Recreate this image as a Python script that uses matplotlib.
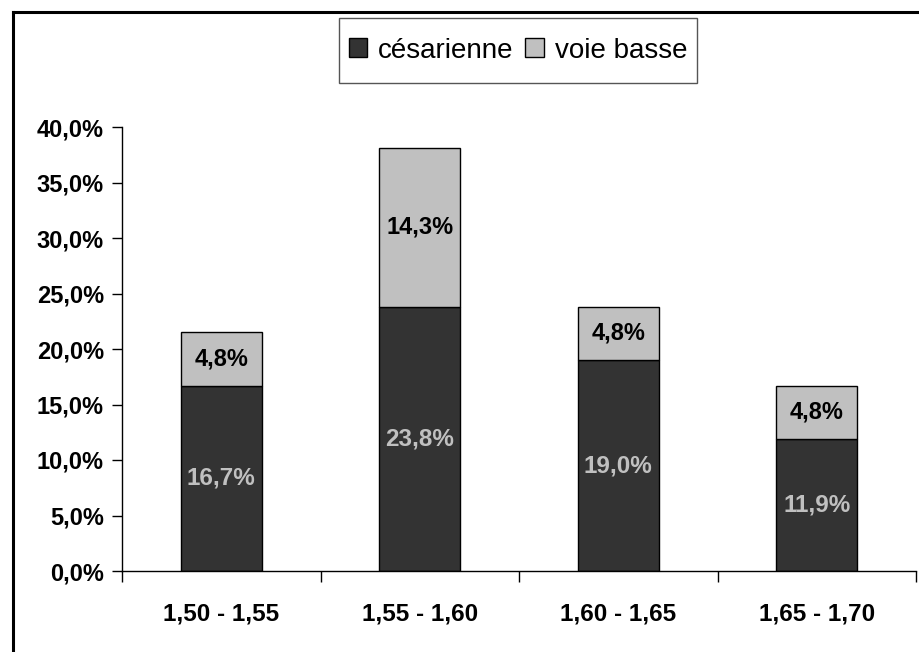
import matplotlib
matplotlib.use("Agg")
import matplotlib.pyplot as plt
from matplotlib.patches import Patch, Rectangle
from matplotlib.lines import Line2D
import numpy as np

categories = ["1,50 - 1,55", "1,55 - 1,60", "1,60 - 1,65", "1,65 - 1,70"]
cesarienne = [16.7, 23.8, 19.0, 11.9]
voie_basse = [4.8, 14.3, 4.8, 4.8]
yticks = [0, 5, 10, 15, 20, 25, 30, 35, 40]

plt.rcParams['font.family'] = ['Liberation Sans', 'DejaVu Sans']

dark = "#333333"
light = "#c0c0c0"
W, H = 920, 652

fig = plt.figure(figsize=(9.2, 6.52), dpi=100)
ax = fig.add_axes([122/W, 81/H, (916-122)/W, (571-127)/H])

x = np.arange(len(categories))
w = 0.41
ax.bar(x, cesarienne, width=w, color=dark, edgecolor="black", linewidth=1, label="césarienne")
ax.bar(x, voie_basse, width=w, bottom=cesarienne, color=light, edgecolor="black", linewidth=1, label="voie basse")

for xi, c, v in zip(x, cesarienne, voie_basse):
    ax.text(xi, c/2, f"{c:.1f}%".replace(".", ","), ha="center", va="center",
            color=light, fontsize=17.5, fontweight="bold")
    ax.text(xi, c + v/2, f"{v:.1f}%".replace(".", ","), ha="center", va="center",
            color="black", fontsize=17, fontweight="bold")

ax.set_xlim(-0.5, len(categories) - 0.5)
ax.set_ylim(0, 40)
ax.set_yticks(yticks)
ax.set_yticklabels([f"{t:.1f}%".replace(".", ",") for t in yticks], fontsize=17, fontweight="bold")
ax.set_xticks(x)
ax.set_xticklabels(categories, fontsize=17.5, fontweight="bold")
ax.set_xticks(np.arange(len(categories) + 1) - 0.5, minor=True)
ax.tick_params(axis="x", which="major", length=0, pad=23)
ax.tick_params(axis="x", which="minor", length=8, width=1, direction="out")
ax.tick_params(axis="y", length=7, width=1, direction="out", pad=6)
for s in ["top", "right"]:
    ax.spines[s].set_visible(False)
for s in ["left", "bottom"]:
    ax.spines[s].set_linewidth(1)

handles = [Patch(facecolor=dark, edgecolor="black", label="césarienne"),
           Patch(facecolor=light, edgecolor="black", label="voie basse")]
leg = fig.legend(handles=handles, loc="center", bbox_to_anchor=(518/W, 1 - 50.5/H),
                 ncol=2, fontsize=20, frameon=False, handlelength=0.65,
                 handleheight=0.65, handletextpad=0.4, columnspacing=0.43, borderpad=0.2,
                 borderaxespad=0)
fig.add_artist(Rectangle((339/W, 1 - 83/H), (697-339)/W, (83-18)/H, transform=fig.transFigure,
                         facecolor="none", edgecolor="#555555", linewidth=1))

fig.add_artist(Line2D([13/W, 1], [1 - 12/H, 1 - 12/H], color="black", linewidth=2.2,
                      transform=fig.transFigure))
fig.add_artist(Line2D([13/W, 13/W], [0, 1 - 12/H], color="black", linewidth=2.2,
                      transform=fig.transFigure))

fig.savefig("out.png", dpi=100)
